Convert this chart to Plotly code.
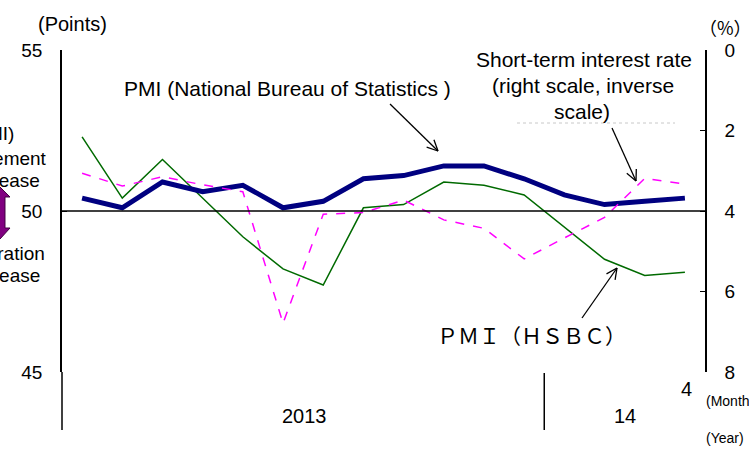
import math
import plotly.graph_objects as go

# months Jan 2013 .. Apr 2014
months = ["2013-01", "2013-02", "2013-03", "2013-04", "2013-05", "2013-06",
          "2013-07", "2013-08", "2013-09", "2013-10", "2013-11", "2013-12",
          "2014-01", "2014-02", "2014-03", "2014-04"]
pmi_nbs = [50.4, 50.1, 50.9, 50.6, 50.8, 50.1, 50.3, 51.0,
           51.1, 51.4, 51.4, 51.0, 50.5, 50.2, 50.3, 50.4]
pmi_hsbc = [52.3, 50.4, 51.6, 50.4, 49.2, 48.2, 47.7, 50.1,
            50.2, 50.9, 50.8, 50.5, 49.5, 48.5, 48.0, 48.1]
short_rate = [3.06, 3.38, 3.15, 3.35, 3.52, 6.79, 4.08, 4.04,
              3.73, 4.22, 4.43, 5.19, 4.67, 4.16, 3.19, 3.33]
left_ticks = [45, 50, 55]
right_ticks = [0, 2, 4, 6, 8]

idx = list(range(len(months)))

# plot area in pixels
L, R, T, B = 62, 705, 50, 372
W, H = 749, 455


def px(x):
    return (x - L) / (R - L)


def py(y):
    return (B - y) / (B - T)


TXT = "Liberation Sans, Arial, sans-serif"
NUM = "Liberation Sans Narrow, Arial Narrow, Liberation Sans, sans-serif"

data = [
    go.Scatter(x=idx, y=pmi_hsbc, mode="lines",
               line=dict(color="#006a00", width=1.5), yaxis="y"),
    go.Scatter(x=idx, y=short_rate, mode="lines",
               line=dict(color="#ff00ff", width=1.5, dash="dash"), yaxis="y2"),
    go.Scatter(x=idx, y=pmi_nbs, mode="lines",
               line=dict(color="#000080", width=5), yaxis="y"),
]

layout = go.Layout(
    width=W, height=H, autosize=False,
    margin=dict(l=L, r=W - R, t=T, b=H - B, pad=0),
    paper_bgcolor="white", plot_bgcolor="white",
    showlegend=False,
    xaxis=dict(range=[-0.5, 15.5], showgrid=False, zeroline=False,
               showticklabels=False, ticks="", showline=False),
    yaxis=dict(range=[45, 55], tickvals=left_ticks, showgrid=False,
               zeroline=False, showline=True, linecolor="black", linewidth=1.5,
               ticks="inside", ticklen=5, tickcolor="black",
               ticklabelstandoff=14,
               tickfont=dict(family=NUM, size=19, color="black")),
    yaxis2=dict(range=[8, 0], tickvals=right_ticks, overlaying="y",
                side="right", showgrid=False, zeroline=False, showline=True,
                linecolor="black", linewidth=1.5, ticks="inside", ticklen=5,
                tickcolor="black", ticklabelstandoff=14,
                tickfont=dict(family=NUM, size=19, color="black")),
)

fig = go.Figure(data=data, layout=layout)

# 50 line, axis extension, year divider
fig.add_shape(type="line", xref="paper", yref="y", x0=0, x1=1, y0=50, y1=50,
              line=dict(color="black", width=1.3))
fig.add_shape(type="line", xref="paper", yref="paper", x0=0, x1=0,
              y0=py(430), y1=0, line=dict(color="black", width=1.5))
fig.add_shape(type="line", xref="x", yref="paper", x0=11.5, x1=11.5,
              y0=py(430), y1=py(373), line=dict(color="black", width=1.5))
fig.add_shape(type="line", xref="paper", yref="paper", x0=px(517), x1=px(675),
              y0=py(123), y1=py(123), line=dict(color="#c8c8c8", width=1, dash="dot"))


def arrow(x0, y0, x1, y1):
    fig.add_shape(type="line", xref="paper", yref="paper",
                  x0=px(x0), y0=py(y0), x1=px(x1), y1=py(y1),
                  line=dict(color="black", width=1.3))
    ang = math.atan2(y1 - y0, x1 - x0)
    for d in (0.45, -0.45):
        a = ang + math.pi + d
        hx, hy = x1 + 12 * math.cos(a), y1 + 12 * math.sin(a)
        fig.add_shape(type="line", xref="paper", yref="paper",
                      x0=px(hx), y0=py(hy), x1=px(x1), y1=py(y1),
                      line=dict(color="black", width=1.3))


arrow(390, 104, 438, 151)
arrow(612, 128, 636, 181)
arrow(582, 318, 617, 268)

# purple double arrow at left edge
pts = [(0, 187), (10, 197), (5, 197), (5, 228), (10, 228), (0, 239),
       (-10, 228), (-5, 228), (-5, 197), (-10, 197)]
path = "M " + " L ".join(f"{px(x):.5f},{py(y):.5f}" for x, y in pts) + " Z"
fig.add_shape(type="path", xref="paper", yref="paper", path=path,
              fillcolor="#800080", line=dict(color="#400040", width=1))


def label(text, x, y, size=21, family=TXT, anchor="center"):
    fig.add_annotation(text=text, xref="paper", yref="paper", x=px(x), y=py(y),
                       xanchor=anchor, yanchor="middle", showarrow=False,
                       font=dict(family=family, size=size, color="black"))


label("(Points)", 72, 24, 20)
label("（%）", 725, 27, 18, "Noto Sans CJK JP")
label("PMI (National Bureau of Statistics )", 287, 88, 21)
label("Short-term interest rate", 584, 59, 21)
label("(right scale, inverse", 583, 85, 21)
label("scale)", 582, 111, 21)
label("ＰＭＩ（ＨＳＢＣ）", 531, 335, 21, "Noto Sans CJK JP")

label("(PMI)", 16, 133, 19, anchor="right")
label("Improvement", 49, 158, 19, anchor="right")
label("Increase", 42, 180, 19, anchor="right")
label("Deterioration", 47, 253, 19, anchor="right")
label("Decrease", 42, 275, 19, anchor="right")

label("4", 686, 389, 20, NUM)
label("2013", 304, 416, 20, NUM)
label("14", 625, 416, 20, NUM)
label("(Month)", 704, 401, 14, TXT, "left")
label("(Year)", 704, 438, 14, TXT, "left")

fig.write_html("out.html", config={"displayModeBar": False},
               post_script="document.body.style.margin='0';")
